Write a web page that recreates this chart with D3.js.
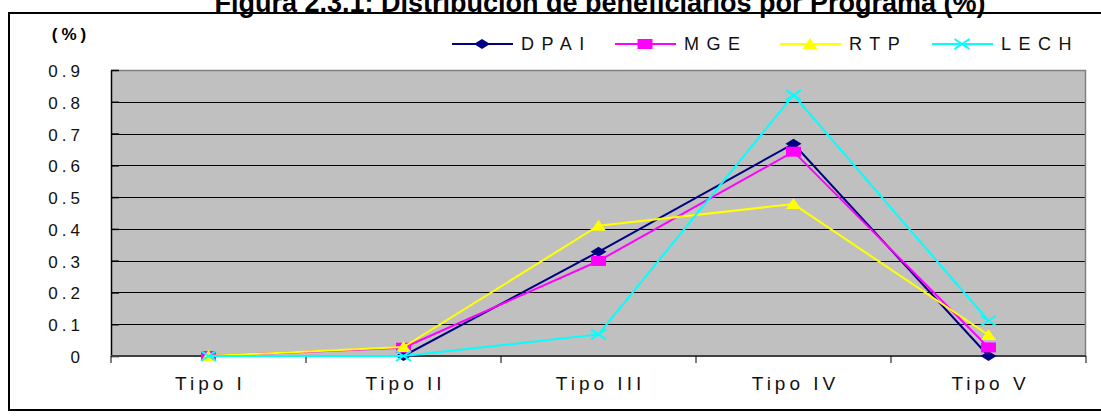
<!DOCTYPE html>
<html><head><meta charset="utf-8">
<script src="https://cdn.jsdelivr.net/npm/d3@7"></script>
<style>body{margin:0;background:#fff;} text{font-family:Arial,"Liberation Sans",sans-serif;}</style>
</head><body><svg id="c" width="1101" height="416"></svg>
<script>
const categories = ["Tipo I","Tipo II","Tipo III","Tipo IV","Tipo V"];
const seriesNames = ["DPAI","MGE","RTP","LECH"];
const dpai = [0, 0, 0.328, 0.668, 0];
const mge  = [0, 0.026, 0.299, 0.643, 0.027];
const rtp  = [0, 0.028, 0.41, 0.478, 0.066];
const lech = [0, 0, 0.068, 0.821, 0.111];
const yTicks = [0,0.1,0.2,0.3,0.4,0.5,0.6,0.7,0.8,0.9];
const colors = ["#000080","#FF00FF","#FFFF00","#00FFFF"];
const shapes = ["diamond","square","triangle","x"];
const title = "Figura 2.3.1: Distribución de beneficiarios por Programa (%)";

const svg = d3.select("#c");
const L=111, R=1086, T=70, B=356;
const x = d3.scaleBand().domain(categories).range([L,R]);
const y = d3.scaleLinear().domain([0,0.9]).range([B,T]);

// outer frame
svg.append("rect").attr("x",9).attr("y",13).attr("width",1100).attr("height",397)
  .attr("fill","none").attr("stroke","#000").attr("stroke-width",2);
// title
svg.append("text").attr("x",600).attr("y",12).attr("text-anchor","middle")
  .attr("font-size",27).attr("font-weight","bold").text(title);
svg.append("text").attr("x",71).attr("y",40).attr("text-anchor","middle")
  .attr("font-size",17).attr("font-weight","bold").attr("letter-spacing",4).text("(%)");

// plot bg
svg.append("rect").attr("x",L).attr("y",T).attr("width",R-L).attr("height",B-T).attr("fill","#C0C0C0");
// gridlines
svg.append("g").selectAll("line").data(yTicks.filter(d=>d>0 && d<0.9)).join("line")
  .attr("x1",L).attr("x2",R).attr("y1",d=>Math.round(y(d))+0.5).attr("y2",d=>Math.round(y(d))+0.5)
  .attr("stroke","#000").attr("stroke-width",1);
// top and right border
svg.append("path").attr("d",`M${L},${T+0.5}H${R-0.5}V${B}`).attr("fill","none").attr("stroke","#808080").attr("stroke-width",1.5);
// y axis
const yAxis = d3.axisLeft(y).tickValues(yTicks).tickSize(0).tickPadding(27).tickFormat(d=>d===0?"0":d3.format(".1f")(d));
const gy = svg.append("g").attr("transform",`translate(${L},0)`).call(yAxis);
gy.select(".domain").attr("stroke","#000").attr("stroke-width",1.5);
gy.selectAll("text").attr("font-size",17).attr("letter-spacing",4).attr("fill","#111").attr("dy","0.38em").attr("font-family","Arial, 'Liberation Sans', sans-serif");
gy.selectAll(".tick").append("line").attr("x1",0).attr("x2",8).attr("stroke","#000").attr("stroke-width",1.5);
// x axis
const bounds = d3.range(categories.length+1).map(i=>L+i*x.bandwidth());
svg.append("line").attr("x1",L).attr("x2",R).attr("y1",B).attr("y2",B).attr("stroke","#404040").attr("stroke-width",2);
svg.append("g").selectAll("line").data(bounds).join("line")
  .attr("x1",d=>d).attr("x2",d=>d).attr("y1",B).attr("y2",B+7).attr("stroke","#000").attr("stroke-width",1);
svg.append("g").selectAll("text").data(categories).join("text")
  .attr("x",d=>x(d)+x.bandwidth()/2+2).attr("y",390).attr("text-anchor","middle")
  .attr("font-size",19).attr("letter-spacing",4).attr("fill","#111").text(d=>d);

const data = [dpai,mge,rtp,lech];
const cx = i=>x(categories[i])+x.bandwidth()/2;
function marker(g, shape, color, px, py){
  if(shape==="diamond") g.append("path").attr("d",`M${px},${py-5}L${px+8},${py}L${px},${py+5}L${px-8},${py}Z`).attr("fill",color);
  else if(shape==="square") g.append("rect").attr("x",px-7.5).attr("y",py-5).attr("width",15).attr("height",10).attr("fill",color);
  else if(shape==="triangle") g.append("path").attr("d",`M${px},${py-6}L${px+7.5},${py+5}L${px-7.5},${py+5}Z`).attr("fill",color);
  else g.append("path").attr("d",`M${px-7.5},${py-5}L${px+7.5},${py+5}M${px-7.5},${py+5}L${px+7.5},${py-5}`).attr("stroke",color).attr("stroke-width",2);
}
const line = d3.line().x((d,i)=>cx(i)).y(d=>y(d));
data.forEach((vals,k)=>{
  const g = svg.append("g");
  g.append("path").attr("d",line(vals)).attr("fill","none").attr("stroke",colors[k]).attr("stroke-width",2);
  vals.forEach((v,i)=>marker(g,shapes[k],colors[k],cx(i),y(v)));
});

// legend
const legX = [452,615,780,932];
seriesNames.forEach((n,k)=>{
  const g = svg.append("g");
  g.append("line").attr("x1",legX[k]).attr("x2",legX[k]+61).attr("y1",44).attr("y2",44).attr("stroke",colors[k]).attr("stroke-width",2);
  marker(g,shapes[k],colors[k],legX[k]+30,44);
  g.append("text").attr("x",legX[k]+69).attr("y",50).attr("font-size",18).attr("letter-spacing",7.5).attr("fill","#111").text(n);
});
</script></body></html>
